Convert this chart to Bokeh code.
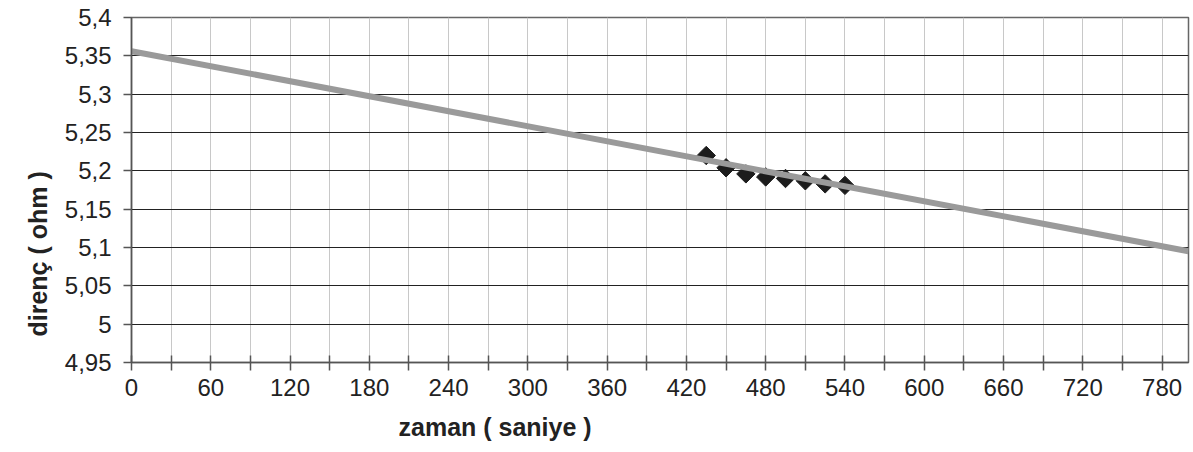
import numpy as np
from bokeh.plotting import figure
from bokeh.models import FixedTicker, Range1d, Title
from bokeh.embed import file_html
from bokeh.resources import INLINE

# data
time_s = [435, 450, 465, 480, 495, 510, 525, 540]
resistance = [5.220, 5.204, 5.196, 5.192, 5.190, 5.187, 5.183, 5.181]
trend_x = [0, 800]
trend_y = [5.356, 5.095]

x_ticks = [0, 60, 120, 180, 240, 300, 360, 420, 480, 540, 600, 660, 720, 780]
x_minor = [30, 90, 150, 210, 270, 330, 390, 450, 510, 570, 630, 690, 750]
y_ticks = [4.95, 5.0, 5.05, 5.1, 5.15, 5.2, 5.25, 5.3, 5.35, 5.4]
y_tick_labels = ["4,95", "5", "5,05", "5,1", "5,15", "5,2", "5,25", "5,3", "5,35", "5,4"]

FONT = "Liberation Sans"

p = figure(width=1193, height=452, output_backend="svg", toolbar_location=None,
           x_range=Range1d(0, 800), y_range=Range1d(4.95, 5.4),
           min_border_left=131, min_border_right=5, min_border_top=17, min_border_bottom=89)

p.xaxis.ticker = FixedTicker(ticks=x_ticks, minor_ticks=x_minor)
p.yaxis.ticker = FixedTicker(ticks=y_ticks)
p.yaxis.major_label_overrides = {t: l for t, l in zip(y_ticks, y_tick_labels)}

for ax in (p.xaxis[0], p.yaxis[0]):
    ax.major_label_text_font = FONT
    ax.major_label_text_font_size = "24px"
    ax.major_label_text_color = "#222222"
    ax.axis_line_color = "#555555"
    ax.axis_line_width = 1.5
    ax.major_tick_line_color = "#555555"
    ax.minor_tick_line_color = "#555555"
    ax.major_tick_line_width = 1.5
    ax.minor_tick_line_width = 1.5

p.xaxis.major_tick_in = 7
p.xaxis.major_tick_out = 8
p.xaxis.minor_tick_in = 7
p.xaxis.minor_tick_out = 8
p.xaxis.major_label_standoff = 8

p.yaxis.major_tick_in = 0
p.yaxis.major_tick_out = 8
p.yaxis.minor_tick_in = 0
p.yaxis.minor_tick_out = 0
p.yaxis.major_label_standoff = 12

yt = Title(text="direnç ( ohm )", align="left", offset=26, text_font=FONT,
           text_font_style="bold", text_font_size="25px", text_color="#222222",
           standoff=20)
p.add_layout(yt, "left")

xt = Title(text="zaman ( saniye )", align="left", offset=267, text_font=FONT,
           text_font_style="bold", text_font_size="25px", text_color="#222222",
           standoff=24)
p.add_layout(xt, "below")

p.xgrid.ticker = FixedTicker(ticks=sorted(x_ticks + x_minor + [800]))
p.xgrid.grid_line_color = "#c8c8c8"
p.xgrid.grid_line_width = 1
p.ygrid.grid_line_color = "#222222"
p.ygrid.grid_line_width = 1

p.outline_line_color = "#666666"
p.outline_line_width = 1.5
p.background_fill_color = "white"
p.border_fill_color = "white"

p.scatter(time_s, resistance, marker="square", angle=np.pi / 4, size=13,
          fill_color="#1c1c1c", line_color="#1c1c1c")
p.line(trend_x, trend_y, line_color="#9a9a9a", line_width=6)

open("out.html", "w").write(file_html(p, INLINE))
